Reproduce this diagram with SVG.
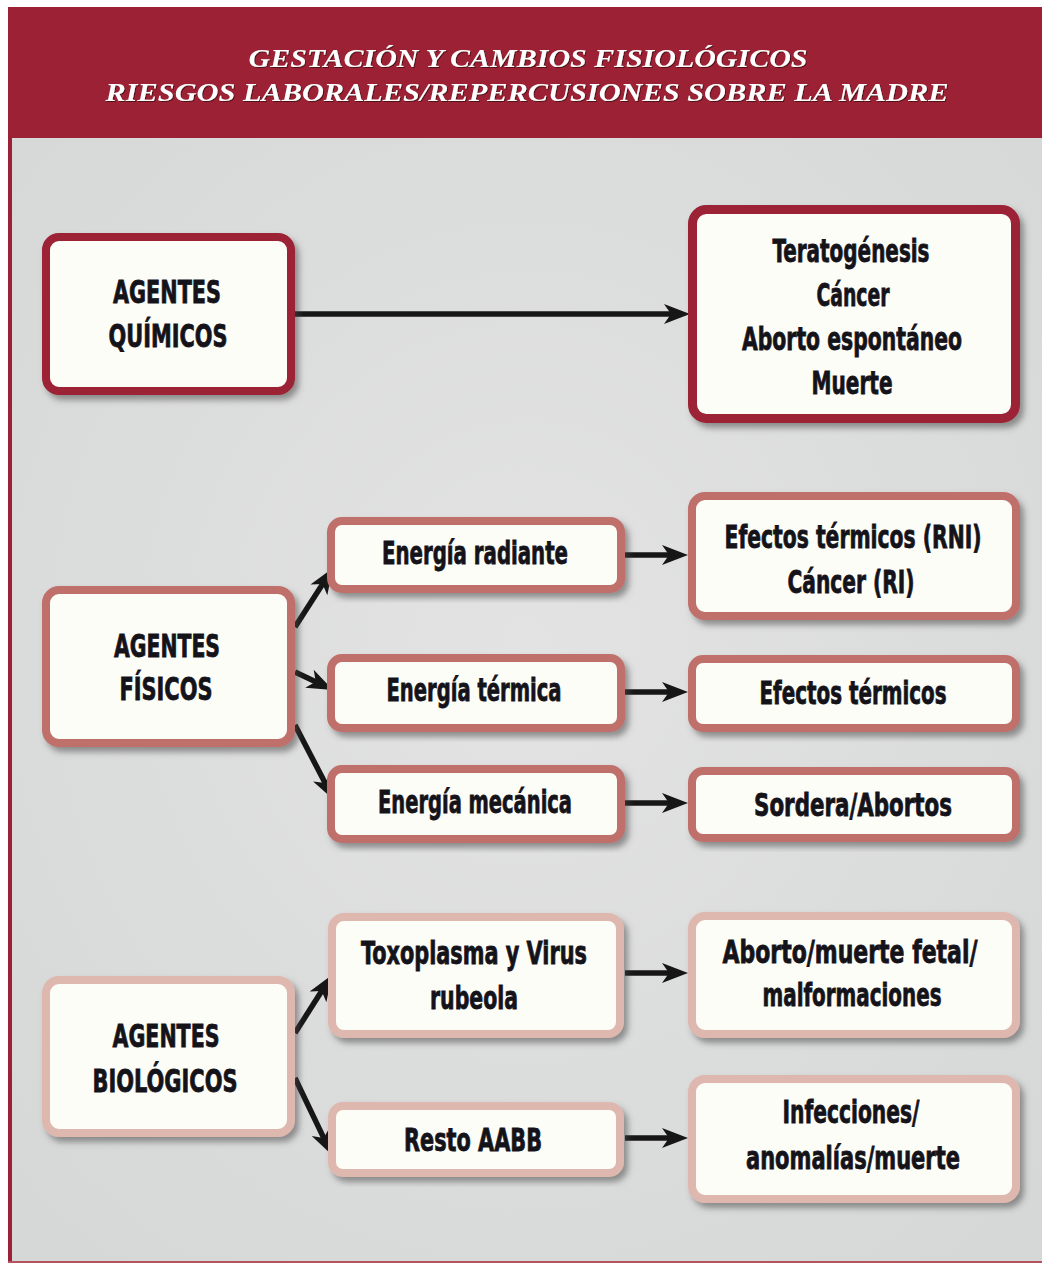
<svg xmlns="http://www.w3.org/2000/svg" width="1042" height="1265" viewBox="0 0 1042 1265">
<defs>
<style>
.hdr{font-family:"Liberation Serif","Times New Roman",serif;font-weight:bold;font-style:italic;font-size:25px;fill:#ffffff;}
.t{font-family:"DejaVu Sans Condensed","DejaVu Sans","Liberation Sans",sans-serif;font-weight:bold;font-size:24px;fill:#15131a;stroke:#15131a;stroke-width:0.6;text-anchor:middle;}
.box{fill:#fdfdf8;stroke-width:8;filter:url(#sh);}
.dark{stroke:#9c2036;}
.mid{stroke:#c0706a;}
.light{stroke:#deb8ae;}
.conn line{stroke:#161616;stroke-width:5.5;marker-end:url(#ah);}
</style>
<filter id="sh" x="-10%" y="-10%" width="125%" height="130%">
<feDropShadow dx="4" dy="5" stdDeviation="3" flood-color="#4a4a4a" flood-opacity="0.55"/>
</filter>
<filter id="tsh" x="-5%" y="-20%" width="110%" height="150%">
<feDropShadow dx="1" dy="1" stdDeviation="0.6" flood-color="#3a0a10" flood-opacity="0.8"/>
</filter>
<radialGradient id="bg" cx="50%" cy="45%" r="70%">
<stop offset="0" stop-color="#e2e3e2"/>
<stop offset="1" stop-color="#d6d8d7"/>
</radialGradient>
<marker id="ah" markerUnits="userSpaceOnUse" markerWidth="28" markerHeight="22" refX="15" refY="10" orient="auto">
<path d="M0,0 L26,10 L0,20 L7,10 z" fill="#161616"/>
</marker>
</defs>

<g id="frame">
<rect x="0" y="0" width="1042" height="1265" fill="#ffffff"/>
<rect x="12" y="138" width="1030" height="1124" fill="url(#bg)"/>
<rect x="8" y="138" width="4" height="1125" fill="#9c2036"/>
<rect x="8" y="1261" width="1034" height="2" fill="#b5535e"/>
<rect x="8" y="7" width="1034" height="131" fill="#9c2134"/>
<g filter="url(#tsh)">
<text class="hdr" x="528" y="67" text-anchor="middle" textLength="559" lengthAdjust="spacingAndGlyphs">GESTACIÓN Y CAMBIOS FISIOLÓGICOS</text>
<text class="hdr" x="527" y="101" text-anchor="middle" textLength="843" lengthAdjust="spacingAndGlyphs">RIESGOS LABORALES/REPERCUSIONES SOBRE LA MADRE</text>
</g>
</g>

<g id="connectors" class="conn">
<line x1="295" y1="314" x2="679" y2="314"/>
<line x1="625" y1="555" x2="677" y2="555"/>
<line x1="625" y1="692" x2="677" y2="692"/>
<line x1="625" y1="803" x2="677" y2="803"/>
<line x1="625" y1="973" x2="677" y2="973"/>
<line x1="625" y1="1138" x2="677" y2="1138"/>
<line x1="295" y1="627" x2="327" y2="577.3"/>
<line x1="295" y1="672" x2="323" y2="685.2"/>
<line x1="295" y1="725" x2="328.9" y2="790.2"/>
<line x1="295" y1="1033" x2="326" y2="984.3"/>
<line x1="295" y1="1078" x2="327.2" y2="1145.1"/>
</g>

<g id="n-quimicos">
<rect class="box dark" x="46" y="237" width="245" height="154" rx="13"/>
<text class="t" transform="translate(167,303) scale(1,1.3)" textLength="108" lengthAdjust="spacingAndGlyphs">AGENTES</text>
<text class="t" transform="translate(168,347) scale(1,1.3)" textLength="119" lengthAdjust="spacingAndGlyphs">QUÍMICOS</text>
</g>
<g id="n-efectos-quimicos">
<rect class="box dark" x="692.5" y="209.5" width="323" height="209" rx="14" style="stroke-width:9"/>
<text class="t" transform="translate(851,262) scale(1,1.3)" textLength="157" lengthAdjust="spacingAndGlyphs">Teratogénesis</text>
<text class="t" transform="translate(853,306) scale(1,1.3)" textLength="73" lengthAdjust="spacingAndGlyphs">Cáncer</text>
<text class="t" transform="translate(852,350) scale(1,1.3)" textLength="220" lengthAdjust="spacingAndGlyphs">Aborto espontáneo</text>
<text class="t" transform="translate(852,394) scale(1,1.3)" textLength="81" lengthAdjust="spacingAndGlyphs">Muerte</text>
</g>

<g id="n-fisicos">
<rect class="box mid" x="46" y="590" width="245" height="153" rx="13"/>
<text class="t" transform="translate(167,657) scale(1,1.3)" textLength="106" lengthAdjust="spacingAndGlyphs">AGENTES</text>
<text class="t" transform="translate(166,700) scale(1,1.3)" textLength="93" lengthAdjust="spacingAndGlyphs">FÍSICOS</text>
</g>
<g id="n-radiante">
<rect class="box mid" x="331" y="521" width="290" height="68" rx="11"/>
<text class="t" transform="translate(475,564) scale(1,1.3)" textLength="186" lengthAdjust="spacingAndGlyphs">Energía radiante</text>
</g>
<g id="n-termica">
<rect class="box mid" x="331" y="658" width="290" height="70" rx="11"/>
<text class="t" transform="translate(474,701) scale(1,1.3)" textLength="175" lengthAdjust="spacingAndGlyphs">Energía térmica</text>
</g>
<g id="n-mecanica">
<rect class="box mid" x="331" y="769" width="290" height="70" rx="11"/>
<text class="t" transform="translate(475,813) scale(1,1.3)" textLength="194" lengthAdjust="spacingAndGlyphs">Energía mecánica</text>
</g>
<g id="n-efectos-rni">
<rect class="box mid" x="692" y="496" width="324" height="120" rx="13"/>
<text class="t" transform="translate(853,548) scale(1,1.3)" textLength="257" lengthAdjust="spacingAndGlyphs">Efectos térmicos (RNI)</text>
<text class="t" transform="translate(851,593) scale(1,1.3)" textLength="127" lengthAdjust="spacingAndGlyphs">Cáncer (RI)</text>
</g>
<g id="n-efectos-termicos">
<rect class="box mid" x="692" y="659" width="324" height="69" rx="11"/>
<text class="t" transform="translate(853,704) scale(1,1.3)" textLength="187" lengthAdjust="spacingAndGlyphs">Efectos térmicos</text>
</g>
<g id="n-sordera">
<rect class="box mid" x="692" y="771" width="324" height="67" rx="11"/>
<text class="t" transform="translate(853,816) scale(1,1.3)" textLength="198" lengthAdjust="spacingAndGlyphs">Sordera/Abortos</text>
</g>

<g id="n-biologicos">
<rect class="box light" x="46" y="980" width="245" height="153" rx="13"/>
<text class="t" transform="translate(166,1047) scale(1,1.3)" textLength="107" lengthAdjust="spacingAndGlyphs">AGENTES</text>
<text class="t" transform="translate(165,1092) scale(1,1.3)" textLength="145" lengthAdjust="spacingAndGlyphs">BIOLÓGICOS</text>
</g>
<g id="n-toxoplasma">
<rect class="box light" x="332" y="917" width="288" height="117" rx="12"/>
<text class="t" transform="translate(474,964) scale(1,1.3)" textLength="226" lengthAdjust="spacingAndGlyphs">Toxoplasma y Virus</text>
<text class="t" transform="translate(474,1009) scale(1,1.3)" textLength="88" lengthAdjust="spacingAndGlyphs">rubeola</text>
</g>
<g id="n-resto">
<rect class="box light" x="332" y="1106" width="288" height="67" rx="11"/>
<text class="t" transform="translate(473,1151) scale(1,1.3)" textLength="138" lengthAdjust="spacingAndGlyphs">Resto AABB</text>
</g>
<g id="n-aborto">
<rect class="box light" x="692" y="916" width="324" height="118" rx="13"/>
<text class="t" transform="translate(850,963) scale(1,1.3)" textLength="255" lengthAdjust="spacingAndGlyphs">Aborto/muerte fetal/</text>
<text class="t" transform="translate(852,1006) scale(1,1.3)" textLength="179" lengthAdjust="spacingAndGlyphs">malformaciones</text>
</g>
<g id="n-infecciones">
<rect class="box light" x="692" y="1079" width="324" height="120" rx="13"/>
<text class="t" transform="translate(851,1123) scale(1,1.3)" textLength="137" lengthAdjust="spacingAndGlyphs">Infecciones/</text>
<text class="t" transform="translate(853,1169) scale(1,1.3)" textLength="214" lengthAdjust="spacingAndGlyphs">anomalías/muerte</text>
</g>
</svg>
